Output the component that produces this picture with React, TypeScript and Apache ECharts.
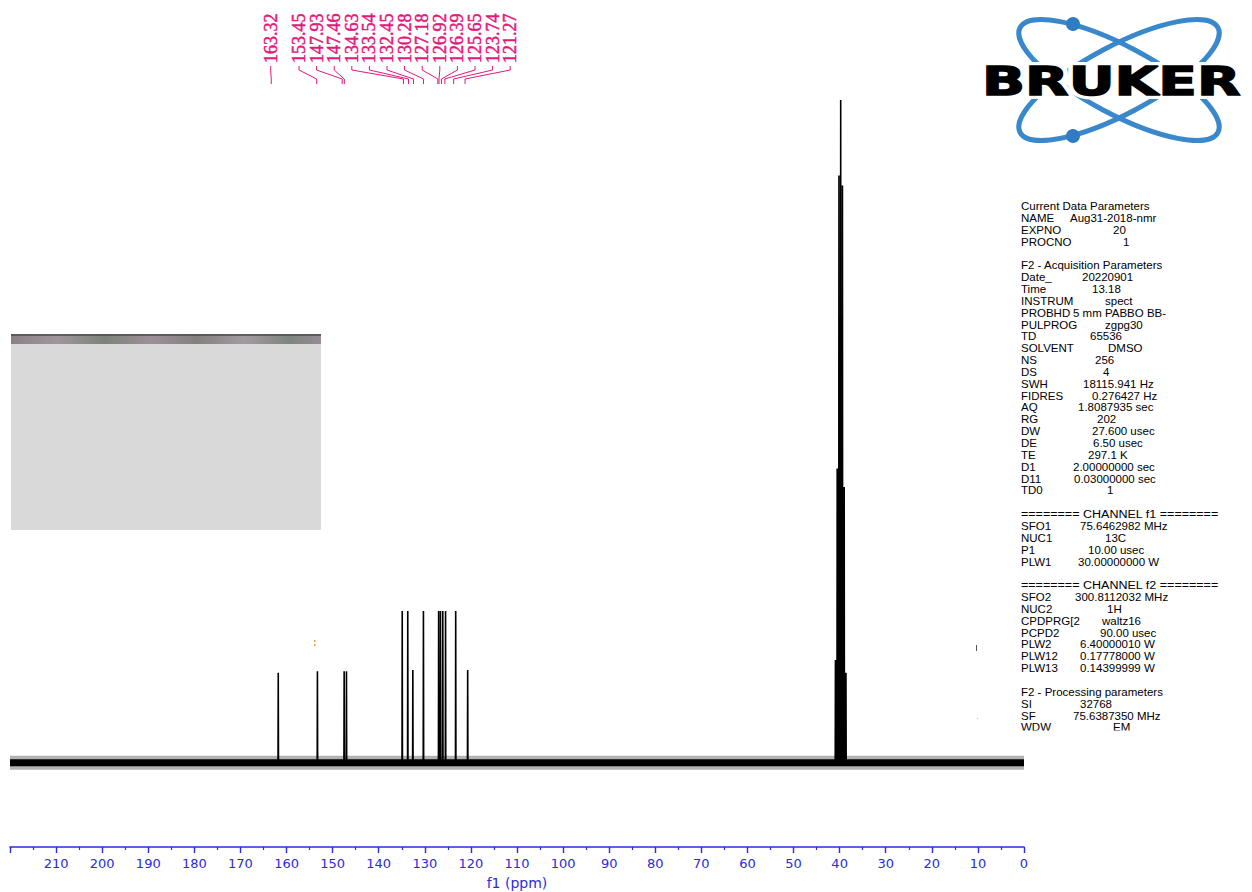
import React, { useEffect, useRef } from "react";
import * as echarts from "echarts";

// ---- data ----
const peakLabels = ["163.32", "153.45", "147.93", "147.46", "134.63", "133.54", "132.45", "130.28", "127.18", "126.92", "126.39", "125.65", "123.74", "121.27"];
const labelPpm = [163.32, 153.45, 147.93, 147.46, 134.63, 133.54, 132.45, 130.28, 127.18, 126.92, 126.39, 125.65, 123.74, 121.27];
const peakPpm = [161.8, 153.3, 147.5, 147.0, 134.9, 133.7, 132.6, 130.3, 127.0, 126.6, 126.1, 125.5, 123.3, 120.7];
const peakHeight = [13.6, 13.8, 13.8, 13.8, 22.9, 22.9, 14.0, 22.9, 22.9, 22.9, 22.9, 22.9, 22.9, 14.0];
const solventPpm = [40.91, 40.53, 40.15, 39.77, 39.39, 39.01, 38.63];
const solventHeight = [15.5, 44.4, 88.6, 100, 87.1, 41.6, 13.6];

const paramKeys = [
  "Current Data Parameters", "NAME", "EXPNO", "PROCNO", "",
  "F2 - Acquisition Parameters", "Date_", "Time", "INSTRUM", "PROBHD", "PULPROG", "TD", "SOLVENT", "NS", "DS",
  "SWH", "FIDRES", "AQ", "RG", "DW", "DE", "TE", "D1", "D11", "TD0", "",
  "======== CHANNEL f1 ========", "SFO1", "NUC1", "P1", "PLW1", "",
  "======== CHANNEL f2 ========", "SFO2", "NUC2", "CPDPRG[2", "PCPD2", "PLW2", "PLW12", "PLW13", "",
  "F2 - Processing parameters", "SI", "SF", "WDW",
];
const paramValues = [
  "", "Aug31-2018-nmr", "20", "1", "",
  "", "20220901", "13.18", "spect", "5 mm PABBO BB-", "zgpg30", "65536", "DMSO", "256", "4",
  "18115.941 Hz", "0.276427 Hz", "1.8087935 sec", "202", "27.600 usec", "6.50 usec", "297.1 K", "2.00000000 sec", "0.03000000 sec", "1", "",
  "", "75.6462982 MHz", "13C", "10.00 usec", "30.00000000 W", "",
  "", "300.8112032 MHz", "1H", "waltz16", "90.00 usec", "6.40000010 W", "0.17778000 W", "0.14399999 W", "",
  "", "32768", "75.6387350 MHz", "EM",
];

// ---- layout (pixels) ----
const valueX = [
  0, 1070, 1113, 1123, 0,
  0, 1082, 1092, 1105, 1073, 1105, 1090, 1108, 1095, 1103,
  1083, 1092, 1078, 1097, 1092, 1093, 1088, 1073, 1074, 1107, 0,
  0, 1080, 1105, 1088, 1078, 0,
  0, 1075, 1107, 1102, 1100, 1080, 1080, 1080, 0,
  0, 1080, 1073, 1113,
];

const PINK = "#e4177c";
const BLUE = "#2b2be0";
const LOGO_BLUE = "#3a88cc";
const PARAM_FONT = '11.5px "Liberation Sans"';

export default function App() {
  const ref = useRef<HTMLDivElement>(null);

  useEffect(() => {
    if (!ref.current) return;
    const chart = echarts.init(ref.current, undefined, { renderer: "svg" });

    const sticks = [
      ...peakPpm.map((p, i) => [p, peakHeight[i]]),
      ...solventPpm.map((p, i) => [p, solventHeight[i]]),
    ].sort((a, b) => b[0] - a[0]);
    const spectrum: number[][] = [[220, 0]];
    for (const [p, h] of sticks) {
      spectrum.push([p + 0.05, 0], [p, h], [p - 0.05, 0]);
    }
    spectrum.push([0, 0]);

    const paramEls: any[] = [];
    paramKeys.forEach((k, i) => {
      const y = 206 + 11.85 * i;
      if (k) {
        const isChan = k.startsWith("=");
        paramEls.push({
          type: "text",
          x: 1021,
          y,
          scaleX: isChan ? 1.09 : 1,
          style: { text: k, font: PARAM_FONT, fill: "#000", align: "left", verticalAlign: "middle" },
        });
      }
      if (paramValues[i]) {
        paramEls.push({
          type: "text",
          x: valueX[i],
          y,
          style: { text: paramValues[i], font: PARAM_FONT, fill: "#000", align: "left", verticalAlign: "middle" },
        });
      }
    });

    const stripGradient = new echarts.graphic.LinearGradient(0, 0, 1, 0, [
      { offset: 0, color: "#8a8086" },
      { offset: 0.15, color: "#a0969c" },
      { offset: 0.3, color: "#7c8479" },
      { offset: 0.45, color: "#9c8f99" },
      { offset: 0.6, color: "#85807f" },
      { offset: 0.75, color: "#a39aa0" },
      { offset: 0.9, color: "#7f857e" },
      { offset: 1, color: "#978c94" },
    ]);

    const option: any = {
      animation: false,
      backgroundColor: "#ffffff",
      grid: { left: 10, right: 228, top: 100, bottom: 45, containLabel: false, outerBoundsMode: "none" },
      xAxis: {
        type: "value",
        min: 0,
        max: 220,
        interval: 10,
        inverse: true,
        position: "bottom",
        name: "f1 (ppm)",
        nameLocation: "middle",
        nameGap: 29,
        nameTextStyle: { color: BLUE, fontSize: 14, fontFamily: "DejaVu Sans" },
        axisLine: { onZero: false, lineStyle: { color: BLUE, width: 1.6 } },
        axisTick: { show: true, length: 6, lineStyle: { color: BLUE, width: 1.4 } },
        minorTick: { show: true, splitNumber: 2, length: 3, lineStyle: { color: BLUE, width: 1.2 } },
        splitLine: { show: false },
        axisLabel: {
          color: BLUE,
          fontSize: 13,
          fontFamily: "DejaVu Sans",
          margin: 10,
          formatter: (v: number) => (v === 220 ? "" : String(v)),
        },
      },
      yAxis: { type: "value", min: -12.7, max: 100, show: false, splitLine: { show: false } },
      series: [
        {
          type: "line",
          data: [[220, 0], [0, 0]],
          symbol: "none",
          lineStyle: { color: "#000", width: 14, opacity: 0.3 },
          silent: true,
        },
        {
          type: "line",
          data: [[220, 0], [0, 0]],
          symbol: "none",
          lineStyle: { color: "#000", width: 7 },
          silent: true,
        },
        {
          type: "line",
          data: spectrum,
          symbol: "none",
          lineStyle: { color: "#000", width: 1.6 },
          silent: true,
        },
        {
          type: "custom",
          clip: false,
          silent: true,
          data: labelPpm.map((p) => [p, 0]),
          renderItem: (params: any, api: any) => {
            const i = params.dataIndex;
            const px = api.coord([api.value(0), 0])[0];
            const lx = i === 0 ? 270.7 : 299 + 17.6 * (i - 1);
            return {
              type: "group",
              children: [
                {
                  type: "text",
                  x: lx,
                  y: 63,
                  rotation: Math.PI / 2,
                  style: {
                    text: peakLabels[i], fill: PINK, stroke: PINK, lineWidth: 0.5,
                    font: '18px "Liberation Serif"', align: "left", verticalAlign: "middle",
                  },
                },
                {
                  type: "polyline",
                  shape: { points: [[lx, 66], [lx, 70], [px, 79], [px, 84]] },
                  style: { stroke: PINK, lineWidth: 1, fill: null },
                },
              ],
            };
          },
        },
      ],
      graphic: [
        { type: "rect", shape: { x: 11, y: 334, width: 310, height: 196 }, style: { fill: "#d9d9d9" } },
        { type: "rect", shape: { x: 11, y: 334, width: 310, height: 10 }, style: { fill: stripGradient } },
        { type: "rect", shape: { x: 11, y: 334, width: 310, height: 2 }, style: { fill: "#4a4448", opacity: 0.7 } },
        // artifacts
        { type: "rect", shape: { x: 314, y: 640, width: 1.5, height: 2 }, style: { fill: "#e8a050" } },
        { type: "rect", shape: { x: 314, y: 644, width: 1.5, height: 2 }, style: { fill: "#e8a050" } },
        { type: "rect", shape: { x: 976, y: 645, width: 1, height: 6 }, style: { fill: "#555" } },
        { type: "rect", shape: { x: 977, y: 718, width: 1, height: 1 }, style: { fill: "#bbb" } },
        // logo
        {
          type: "ellipse", x: 1119, y: 80, rotation: (-28 * Math.PI) / 180,
          shape: { cx: 0, cy: 0, rx: 112, ry: 34 },
          style: { fill: null, stroke: LOGO_BLUE, lineWidth: 5 },
        },
        {
          type: "ellipse", x: 1119, y: 80, rotation: (28 * Math.PI) / 180,
          shape: { cx: 0, cy: 0, rx: 112, ry: 34 },
          style: { fill: null, stroke: LOGO_BLUE, lineWidth: 5 },
        },
        { type: "circle", shape: { cx: 1073, cy: 24, r: 7 }, style: { fill: "#2f7cc4" } },
        { type: "circle", shape: { cx: 1073, cy: 136, r: 7 }, style: { fill: "#2f7cc4" } },
        {
          type: "text", x: 982, y: 81, scaleX: 1.45,
          style: { text: "BRUKER", font: 'bold 39px "DejaVu Sans"', fill: "#fff", stroke: "#fff", lineWidth: 8, align: "left", verticalAlign: "middle" },
        },
        {
          type: "text", x: 982, y: 81, scaleX: 1.45,
          style: { text: "BRUKER", font: 'bold 39px "DejaVu Sans"', fill: "#000", stroke: "#000", lineWidth: 1.4, align: "left", verticalAlign: "middle" },
        },
        ...paramEls,
        { type: "rect", z: 200, shape: { x: 1015, y: 730.5, width: 230, height: 14 }, style: { fill: "#fff" } },
      ],
    };

    chart.setOption(option);
    return () => chart.dispose();
  }, []);

  return (
    <div
      ref={ref}
      style={{ position: "fixed", left: 0, top: 0, width: 1252, height: 892, background: "#fff" }}
    />
  );
}
